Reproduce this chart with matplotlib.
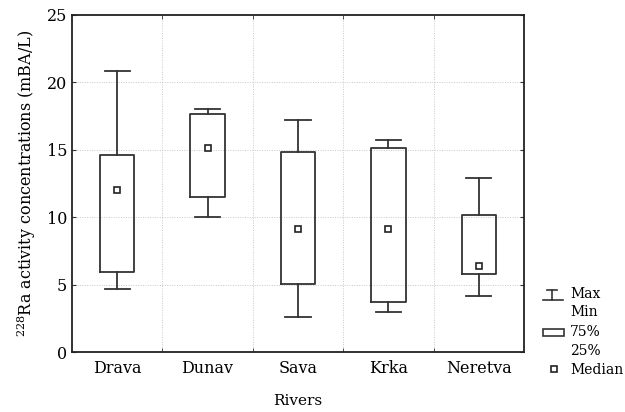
import matplotlib
matplotlib.use("Agg")
import matplotlib.pyplot as plt
from matplotlib.lines import Line2D
from matplotlib.patches import Rectangle

rivers = ["Drava", "Dunav", "Sava", "Krka", "Neretva"]
v_min = [4.7, 10.0, 2.6, 3.0, 4.15]
v_q1 = [5.9, 11.5, 5.05, 3.7, 5.8]
v_med = [12.0, 15.1, 9.15, 9.15, 6.4]
v_q3 = [14.6, 17.65, 14.85, 15.1, 10.15]
v_max = [20.8, 18.0, 17.2, 15.75, 12.9]

plt.rcParams['font.family'] = ['DejaVu Serif']
plt.rcParams['mathtext.fontset'] = 'dejavuserif'

fig = plt.figure(figsize=(6.25, 4.12), dpi=100)
ax = fig.add_axes([0.1152, 0.1456, 0.7232, 0.8187])

lc = '#333333'
stats = []
for i, r in enumerate(rivers):
    stats.append(dict(label=r, whislo=v_min[i], q1=v_q1[i], med=v_med[i],
                      q3=v_q3[i], whishi=v_max[i], fliers=[]))
pos = list(range(len(rivers)))
ax.bxp(stats, positions=pos, widths=0.38, capwidths=0.28, showfliers=False,
       boxprops=dict(color=lc, lw=1.3), whiskerprops=dict(color=lc, lw=1.3),
       capprops=dict(color=lc, lw=1.3), medianprops=dict(visible=False))
ax.plot(pos, v_med, ls='none', marker='s', ms=5, mfc='white', mec='#222222', mew=1.2)

ax.set_xlim(-0.5, 4.5)
ax.set_ylim(0, 25)
ax.set_xticks(pos)
ax.set_xticklabels(rivers, fontsize=11)
ax.set_xticks([0.5, 1.5, 2.5, 3.5], minor=True)
ax.set_yticks([0, 5, 10, 15, 20, 25])
ax.tick_params(axis='both', which='major', labelsize=11.5)
ax.tick_params(axis='x', which='major', length=0, pad=6)
ax.tick_params(axis='x', which='minor', direction='in', length=3, top=True, bottom=True, color=lc)
ax.tick_params(axis='y', which='major', direction='in', length=3, left=True, right=True, color=lc)
ax.xaxis.grid(True, which='minor', ls=(0, (1, 1.5)), color='#c8c8c8', lw=0.7)
ax.yaxis.grid(True, which='major', ls=(0, (1, 1.5)), color='#c8c8c8', lw=0.7)
ax.set_axisbelow(True)
for s in ax.spines.values():
    s.set_color('#222222')
    s.set_linewidth(1.3)

ax.set_xlabel("Rivers", fontsize=11, labelpad=12)
ax.set_ylabel(r"$^{228}$Ra activity concentrations (mBA/L)", fontsize=11.5, labelpad=6)

# custom legend in figure pixel coords
W, H = 625.0, 412.0
def fx(x): return x / W
def fy(y): return 1 - y / H
# whisker symbol
fig.add_artist(Line2D([fx(547), fx(557)], [fy(290), fy(290)], color=lc, lw=1.2))
fig.add_artist(Line2D([fx(543), fx(563)], [fy(300), fy(300)], color=lc, lw=1.2))
fig.add_artist(Line2D([fx(552), fx(552)], [fy(290), fy(300)], color=lc, lw=1.2))
fig.text(fx(570), fy(294), "Max", fontsize=10, va='center', ha='left')
fig.text(fx(570), fy(312), "Min", fontsize=10, va='center', ha='left')
fig.add_artist(Rectangle((fx(543), fy(336)), fx(21), 7.5 / H, transform=fig.transFigure,
                         fill=False, ec=lc, lw=1.2))
fig.text(fx(570), fy(332), "75%", fontsize=10, va='center', ha='left')
fig.text(fx(570), fy(351), "25%", fontsize=10, va='center', ha='left')
fig.add_artist(Line2D([fx(554)], [fy(369)], ls='none', marker='s', ms=4.5,
                      mfc='white', mec='#222222', mew=1.2))
fig.text(fx(570), fy(370), "Median", fontsize=10, va='center', ha='left')

fig.savefig("out.png", dpi=100)
